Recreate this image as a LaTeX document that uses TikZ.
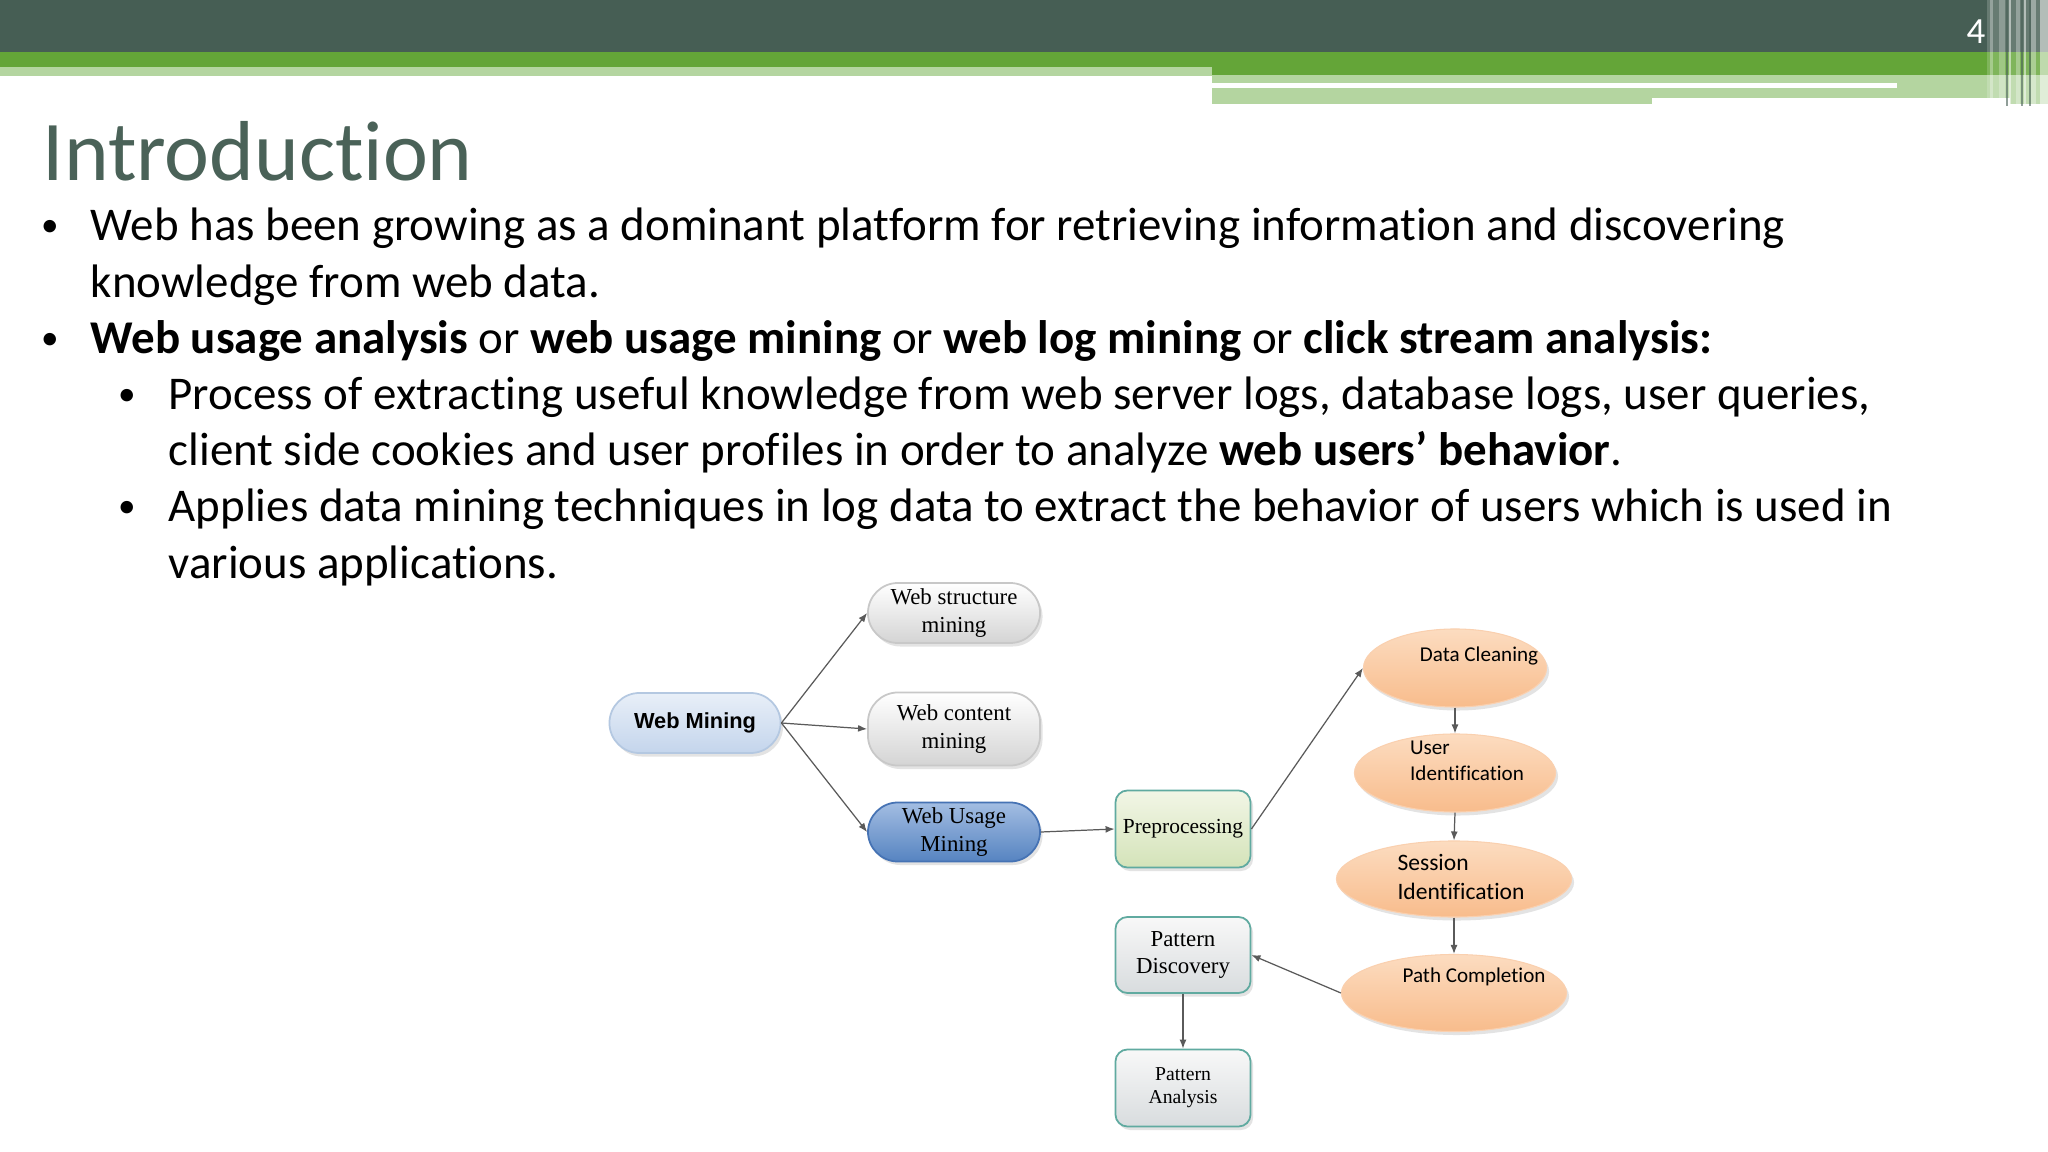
\documentclass[tikz,border=0pt]{standalone}
\usepackage{fontspec}
\setmainfont[Ligatures={NoCommon,NoContextual}]{Carlito}
\newfontfamily\figserif{Liberation Serif}
\newfontfamily\figsans{Liberation Sans}
\usetikzlibrary{arrows.meta,shapes.geometric,shadows}
\definecolor{hdrdark}{RGB}{70,94,84}
\definecolor{hdrgreen}{RGB}{100,165,56}
\definecolor{hdrlight}{RGB}{180,213,160}
\definecolor{titlecol}{RGB}{74,98,88}
\definecolor{linkcol}{RGB}{90,90,90}
\definecolor{webtop}{RGB}{232,239,248}
\definecolor{webbot}{RGB}{196,213,236}
\definecolor{webline}{RGB}{180,200,225}
\definecolor{greyline}{RGB}{200,200,200}
\definecolor{greybot}{RGB}{212,212,212}
\definecolor{usetop}{RGB}{163,190,226}
\definecolor{usebot}{RGB}{86,131,193}
\definecolor{useline}{RGB}{70,115,180}
\definecolor{preptop}{RGB}{242,246,230}
\definecolor{prepbot}{RGB}{212,227,185}
\definecolor{tealline}{RGB}{96,170,160}
\definecolor{pattop}{RGB}{248,248,248}
\definecolor{patbot}{RGB}{216,220,222}
\definecolor{ovaltop}{RGB}{252,220,192}
\definecolor{ovalbot}{RGB}{248,188,140}
\tikzset{
  bodytext/.style={anchor=base west, inner sep=0pt, font=\fontsize{13.35}{16}\selectfont},
  bulletmark/.style={anchor=base, inner sep=0pt, font=\fontsize{10}{12}\selectfont},
  link/.style={draw=linkcol, line width=0.35pt, -{Latex[length=0.9mm,width=0.7mm]}},
  nodeshadow/.style={drop shadow={shadow xshift=0.25mm, shadow yshift=-0.35mm, opacity=0.22}},
  pill/.style={rectangle, rounded corners=3mm, minimum width=17.2mm, minimum height=6mm,
    inner sep=0pt, align=center, line width=0.5pt, nodeshadow,
    font=\figserif\fontsize{6.5}{7.7}\selectfont},
  greypill/.style={pill, draw=greyline, top color=white, bottom color=greybot},
  mainpill/.style={pill, draw=webline, top color=webtop, bottom color=webbot,
    font=\figsans\bfseries\fontsize{6.2}{7.4}\selectfont},
  bluepill/.style={pill, draw=useline, top color=usetop, bottom color=usebot},
  stagebox/.style={rectangle, rounded corners=1.2mm, minimum width=13.5mm, minimum height=7.7mm,
    inner sep=0pt, align=center, line width=0.5pt, draw=tealline, nodeshadow,
    font=\figserif\fontsize{6.5}{7.7}\selectfont},
  prepbox/.style={stagebox, top color=preptop, bottom color=prepbot, font=\figserif\fontsize{6.1}{7.3}\selectfont},
  patbox/.style={stagebox, top color=pattop, bottom color=patbot},
  oval/.style={ellipse, inner sep=0pt, minimum height=7.8mm, top color=ovaltop, bottom color=ovalbot,
    draw=ovalbot!70!white, line width=0.3pt, nodeshadow},
  ovaltext/.style={font=\fontsize{6}{7.4}\selectfont, align=left, inner sep=0pt}
}
\begin{document}
\begin{tikzpicture}[x=0.01cm, y=-0.01cm]
\useasboundingbox (0,0) rectangle (2048,1152);
\fill[white] (0,0) rectangle (2048,1152);
% header bands
\fill[hdrdark] (0,0) rectangle (2048,52);
\fill[hdrgreen] (0,52) rectangle (2048,67);
\fill[hdrgreen] (1212,67) rectangle (2048,75);
\fill[hdrlight] (0,67) rectangle (1212,76);
\fill[hdrlight] (1212,75) rectangle (2048,104);
\fill[white] (1212,83) rectangle (1897,88);
\fill[white] (1652,98) rectangle (2010,104);
\fill[white, opacity=0.18] (1987,0) rectangle (2048,104);
\foreach \sx/\sw/\op in {1990/3/0.3, 1999/6/0.25, 2009/2/0.5, 2016/4/0.3, 2024/2/0.5, 2031/5/0.35, 2040/8/0.5}
  \fill[white, opacity=\op] (\sx,0) rectangle ++(\sw,106);
\foreach \sx in {2006,2021,2029}
  \fill[hdrdark, opacity=0.6] (\sx,0) rectangle ++(1.5,106);
\node[text=white, inner sep=0pt, font=\fontsize{10.5}{12}\selectfont] (pnum) at (1976,32) {4};

\node[anchor=base west, inner sep=0pt, text=titlecol, font=\fontsize{24.2}{29}\selectfont] (title) at (42,181) {Introduction};

\foreach \k/\xx/\txt in {
  0/90/{Web has been growing as a dominant platform for retrieving information and discovering},
  1/90/{knowledge from web data.},
  2/90/{\textbf{Web usage analysis} or \textbf{web usage mining} or \textbf{web log mining} or \textbf{click stream analysis:}},
  3/168/{Process of extracting useful knowledge from web server logs, database logs, user queries,},
  4/168/{client side cookies and user profiles in order to analyze \textbf{web users’ behavior}.},
  5/168/{Applies data mining techniques in log data to extract the behavior of users which is used in},
  6/168/{various applications.}}
  \node[bodytext] (line\k) at (\xx,241+56.2*\k) {\txt};
\foreach \k/\xx in {0/50, 2/50, 3/127, 5/127}
  \node[bulletmark] (dot\k) at (\xx,237+56.2*\k) {•};

% web mining taxonomy
\node[mainpill, minimum width=17.1mm] (webmin) at (695,723) {Web Mining};
\node[greypill] (wstruct) at (954,613) {Web structure\\mining};
\node[greypill, minimum height=7.3mm] (wcontent) at (954,729) {Web content\\mining};
\node[bluepill, minimum height=5.9mm] (wusage) at (954,832) {Web Usage\\Mining};
\node[prepbox] (prep) at (1183,829) {Preprocessing};
\node[patbox, minimum height=7.6mm] (pdisc) at (1183,955) {Pattern\\Discovery};
\node[patbox, font=\figserif\fontsize{5.6}{6.6}\selectfont] (panal) at (1183,1088) {Pattern\\Analysis};

% preprocessing steps
\node[oval, minimum width=18.3mm, label={[ovaltext, xshift=2.4mm, yshift=1.2mm]center:Data Cleaning}] (dclean) at (1455,668) {};
\node[oval, minimum width=20.1mm, label={[ovaltext, xshift=1.2mm, yshift=1.2mm]center:User\\Identification}] (userid) at (1455,773) {};
\node[oval, minimum width=23.5mm, minimum height=7.6mm, label={[ovaltext, font=\fontsize{6.7}{8.3}\selectfont, xshift=0.7mm, yshift=0.2mm]center:Session\\Identification}] (sessid) at (1454,879) {};
\node[oval, minimum width=22.5mm, minimum height=7.7mm, label={[ovaltext, xshift=2mm, yshift=1.6mm]center:Path Completion}] (pathc) at (1454,993) {};

\draw[link] (webmin.east) -- (wstruct.west);
\draw[link] (webmin.east) -- (wcontent.west);
\draw[link] (webmin.east) -- (wusage.west);
\draw[link] (wusage.east) -- (prep.west);
\draw[link] (prep.east) -- (dclean.west);
\draw[link] (dclean.south) -- (userid.north);
\draw[link] (userid.south) -- (sessid.north);
\draw[link] (sessid.south) -- (pathc.north);
\draw[link] (pathc.west) -- (pdisc.east);
\draw[link] (pdisc.south) -- (panal.north);
\end{tikzpicture}
\end{document}
